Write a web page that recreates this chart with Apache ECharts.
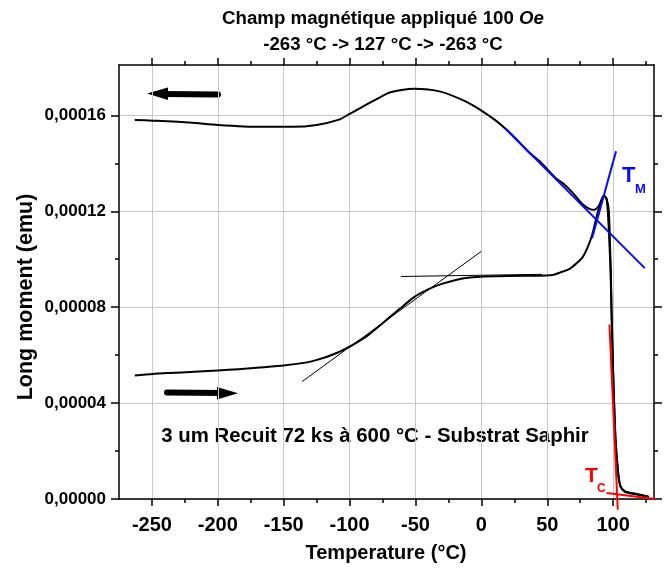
<!DOCTYPE html>
<html><head><meta charset="utf-8">
<script src="https://cdn.jsdelivr.net/npm/echarts@6/dist/echarts.min.js"></script>
<style>html,body{margin:0;padding:0;background:#fff}#c{width:672px;height:577px}</style>
</head><body><div id="c"></div>
<script>
// ---- data ----
const heatingT = [-263,-239,-200,-150,-128,-108,-88,-77,-62,-51,-40,-30,-12,11,49,54,60,67,72,77,80,84,88,91,93,95,96.7,97.5,98.3,98.7,100,101.8,103.8,105.6,109,117,127];
const heatingM = [0.0000515,0.0000525,0.0000536,0.0000557,0.0000575,0.0000613,0.0000675,0.0000724,0.0000793,0.0000842,0.0000875,0.0000897,0.0000922,0.0000929,0.0000932,0.0000934,0.0000945,0.000096,0.0000982,0.000101,0.0001042,0.00011,0.000119,0.0001245,0.0001265,0.0001252,0.0001203,0.000108,0.000094,0.00008,0.0000523,0.0000245,0.0000106,0.000005,0.000003,0.000002,0.0000008];
const coolingT = [127,117,109,105.5,103.8,101.8,100,98.7,98,97.2,96.2,95,93,91,89,85.5,82,77,69,63,56.5,45,36,27,18.5,10,0,-12,-31,-51,-69,-78,-88,-100,-108,-125,-143,-168,-200,-221,-249,-263];
const coolingM = [0.000001,0.0000022,0.0000032,0.0000055,0.000011,0.000025,0.000053,0.00008,0.0000953,0.0001064,0.0001175,0.0001252,0.0001265,0.0001245,0.0001222,0.0001206,0.000121,0.0001228,0.0001279,0.0001312,0.0001338,0.0001405,0.0001446,0.0001498,0.0001543,0.0001582,0.000162,0.0001658,0.0001699,0.0001711,0.0001696,0.0001672,0.0001643,0.0001606,0.0001582,0.000156,0.0001552,0.0001552,0.000156,0.000157,0.0001578,0.0001581];
// tangent construction lines [x1, y1, x2, y2]
const tangentPlateau = [-61, 0.0000928, 46, 0.0000937];
const tangentSlope   = [-136, 0.000049, 0, 0.0001033];
const tangentTm1     = [18, 0.0001546, 124, 0.0000963];
const tangentTm2     = [84, 0.0001088, 102.2, 0.000145];
const tangentTc1     = [97.2, 0.0000728, 103.5, -0.0000045];
const tangentTc2     = [95, 0.0000025, 144, -0.0000008];
// axis ticks
const xMajor = [-250,-200,-150,-100,-50,0,50,100];
const xMinor = [-225,-175,-125,-75,-25,25,75,125];
const yMajor = [0,0.00004,0.00008,0.00012,0.00016];
const yMinor = [0.00002,0.00006,0.0001,0.00014];
const X_MIN = -275, X_MAX = 131, Y_MIN = 0, Y_MAX = 0.000181;

const FONT = '"Liberation Sans", Arial, sans-serif';
const pairs = (xs, ys) => xs.map((x, i) => [x, ys[i]]);
const seg = a => [[a[0], a[1]], [a[2], a[3]]];

function xAx(pos, vals, len, line, labels, split) {
  return {
    type: 'value', position: pos, min: X_MIN, max: X_MAX,
    axisLine: {show: line, onZero: false, lineStyle: {color: '#000', width: 1.5}},
    axisTick: {show: true, customValues: vals, length: len, lineStyle: {color: '#000', width: 1.5}},
    axisLabel: {show: labels, customValues: vals, color: '#000', fontSize: 20, fontWeight: 'bold', fontFamily: FONT, margin: 16},
    splitLine: {show: split, lineStyle: {color: '#c8c8c8', width: 1}}
  };
}
function yAx(pos, vals, len, line, labels, split) {
  return {
    type: 'value', position: pos, min: Y_MIN, max: Y_MAX,
    axisLine: {show: line, onZero: false, lineStyle: {color: '#000', width: 1.5}},
    axisTick: {show: true, customValues: vals, length: len, lineStyle: {color: '#000', width: 1.5}},
    axisLabel: {show: labels, customValues: vals, color: '#000', fontSize: 17, fontWeight: 'bold', fontFamily: FONT, margin: 13,
      formatter: v => v.toFixed(5).replace('.', ',')},
    splitLine: {show: split, lineStyle: {color: '#c8c8c8', width: 1}}
  };
}
function lineSeries(data, color, width, clip, smooth) {
  return {type: 'line', xAxisIndex: 0, yAxisIndex: 0, data: data, showSymbol: false, symbol: 'none',
    clip: clip, smooth: smooth || false, lineStyle: {color: color, width: width}, silent: true};
}

const chart = echarts.init(document.getElementById('c'), null, {renderer: 'canvas'});
chart.setOption({
  animation: false,
  backgroundColor: '#fff',
  grid: {left: 119, right: 18, top: 65, bottom: 78, containLabel: false},
  title: {
    left: 378, top: 1, textAlign: 'center',
    text: '{a|Champ magnétique appliqué 100 }{i|Oe}\n{a|-263 °C -> 127 °C -> -263 °C}',
    textStyle: {
      rich: {
        a: {fontSize: 18.7, fontWeight: 'bold', fontFamily: FONT, color: '#000', lineHeight: 26},
        i: {fontSize: 18.7, fontWeight: 'bold', fontStyle: 'italic', fontFamily: FONT, color: '#000', lineHeight: 26}
      }
    }
  },
  xAxis: [
    xAx('bottom', xMajor, 7, true, true, true),
    xAx('bottom', xMinor, 4, false, false, false),
    xAx('top', xMajor, 7, true, false, false),
    xAx('top', xMinor, 4, false, false, false)
  ],
  yAxis: [
    yAx('left', yMajor, 8, true, true, true),
    yAx('left', yMinor, 4, false, false, false),
    yAx('right', yMajor, 8, true, false, false),
    yAx('right', yMinor, 4, false, false, false)
  ],
  series: [
    lineSeries(pairs(heatingT, heatingM), '#000', 2, true, 0.25),
    lineSeries(pairs(coolingT, coolingM), '#000', 2, true, 0.25),
    lineSeries(seg(tangentPlateau), '#000', 1, true),
    lineSeries(seg(tangentSlope), '#000', 1, true),
    lineSeries(seg(tangentTm1), '#0a0aff', 2, true),
    lineSeries(seg(tangentTm2), '#0a0aff', 2, true),
    lineSeries(seg(tangentTc1), '#ff0000', 2, false),
    lineSeries(seg(tangentTc2), '#ff0000', 2, false)
  ],
  graphic: [
    // axis names
    {type: 'text', x: 386, y: 553, style: {text: 'Temperature (°C)', font: 'bold 20px ' + FONT, fill: '#000', align: 'center', verticalAlign: 'middle'}},
    {type: 'text', x: 26, y: 297, rotation: Math.PI / 2, style: {text: 'Long moment (emu)', font: 'bold 21.5px ' + FONT, fill: '#000', align: 'center', verticalAlign: 'middle'}},
    // annotation
    {type: 'text', x: 375, y: 436, style: {text: '3 um Recuit 72 ks à 600 °C - Substrat Saphir', font: 'bold 20.4px ' + FONT, fill: '#000', align: 'center', verticalAlign: 'middle'}},
    // T_M
    {type: 'text', x: 622, y: 176, style: {text: 'T', font: 'bold 22px ' + FONT, fill: '#0a0aff', align: 'left', verticalAlign: 'middle'}},
    {type: 'text', x: 635, y: 189, style: {text: 'M', font: 'bold 13px ' + FONT, fill: '#0a0aff', align: 'left', verticalAlign: 'middle'}},
    // T_C
    {type: 'text', x: 585, y: 476, style: {text: 'T', font: 'bold 21px ' + FONT, fill: '#ff0000', align: 'left', verticalAlign: 'middle'}},
    {type: 'text', x: 597, y: 489, style: {text: 'C', font: 'bold 12px ' + FONT, fill: '#ff0000', align: 'left', verticalAlign: 'middle'}},
    // arrows
    {type: 'line', shape: {x1: 218, y1: 94.5, x2: 163, y2: 94}, style: {stroke: '#000', lineWidth: 6, lineCap: 'round'}},
    {type: 'polygon', shape: {points: [[147, 93.5], [168, 87.5], [168, 100]]}, style: {fill: '#000'}},
    {type: 'line', shape: {x1: 167, y1: 392.5, x2: 222, y2: 393}, style: {stroke: '#000', lineWidth: 6, lineCap: 'round'}},
    {type: 'polygon', shape: {points: [[238, 393.3], [217, 387], [217, 399.5]]}, style: {fill: '#000'}}
  ]
});
</script></body></html>
